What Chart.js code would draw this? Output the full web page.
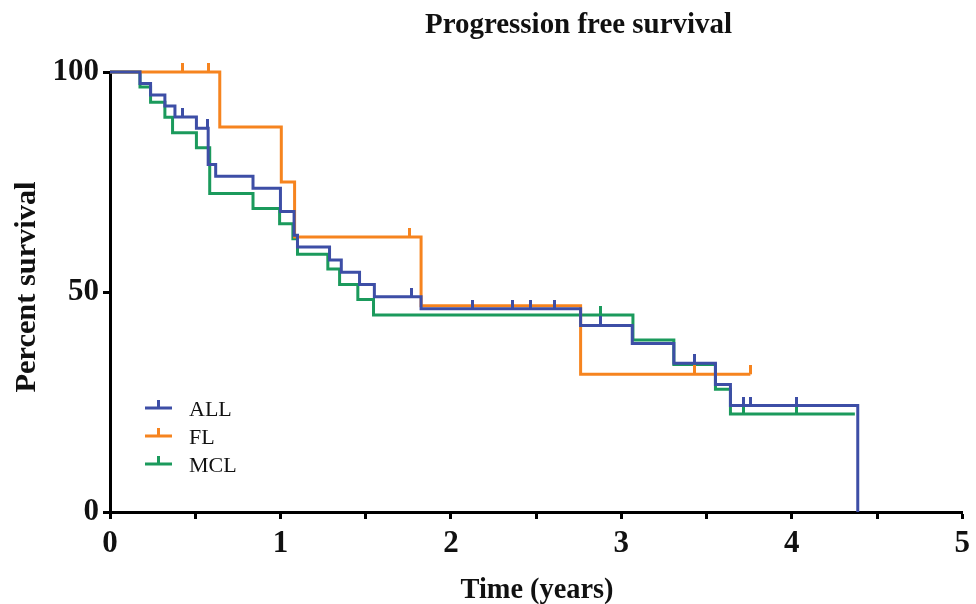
<!DOCTYPE html>
<html>
<head>
<meta charset="utf-8">
<script src="https://cdn.jsdelivr.net/npm/chart.js@4"></script>
<style>
html,body{margin:0;padding:0;background:#fff;}
#wrap{width:976px;height:604px;position:relative;}
</style>
</head>
<body>
<div id="wrap"><canvas id="c" width="976" height="604"></canvas></div>
<script>
// ---- data ----
const chartTitle = "Progression free survival";
const xTitle = "Time (years)";
const yTitle = "Percent survival";
const seriesNames = ["ALL", "FL", "MCL"];
const seriesColors = ["#3d4ea6", "#f6841f", "#1b9a5c"];

const ALL_time = [0, 0.176, 0.238, 0.322, 0.381, 0.507, 0.576, 0.62, 0.839, 1.0, 1.08, 1.1, 1.288, 1.357, 1.464, 1.551, 1.825, 2.761, 3.064, 3.308, 3.552, 3.64, 4.387];
const ALL_surv = [100, 97.4, 94.8, 92.3, 89.8, 87.2, 79.0, 76.3, 73.6, 68.3, 62.9, 60.2, 57.3, 54.5, 51.7, 48.9, 46.2, 42.4, 38.3, 33.8, 29.0, 24.2, 0];
const ALL_censor = [0.425, 0.57, 1.766, 2.127, 2.361, 2.469, 2.608, 2.878, 3.431, 3.718, 3.757, 4.03];

const FL_time = [0, 0.644, 1.005, 1.083, 1.825, 2.761, 3.757];
const FL_surv = [100, 87.5, 75, 62.5, 46.9, 31.3, 31.3];
const FL_censor = [0.425, 0.576, 1.76, 3.431, 3.757];

const MCL_time = [0, 0.176, 0.238, 0.322, 0.367, 0.507, 0.585, 0.839, 0.995, 1.073, 1.1, 1.278, 1.347, 1.454, 1.546, 3.068, 3.308, 3.552, 3.64, 4.37];
const MCL_surv = [100, 96.6, 93.1, 89.7, 86.2, 82.8, 72.4, 69.0, 65.5, 62.1, 58.6, 55.2, 51.7, 48.3, 44.8, 39.1, 33.5, 27.9, 22.3, 22.3];
const MCL_censor = [2.875, 3.718, 4.03];

const xTicks = [0, 1, 2, 3, 4, 5];
const yTicks = [0, 50, 100];

// ---- helpers ----
function toPoints(t, s) { return t.map((v, i) => ({x: v, y: s[i]})); }
function survAt(t, s, x) { let v = s[0]; for (let i = 0; i < t.length; i++) { if (t[i] <= x) v = s[i]; } return v; }
function censorPoints(c, t, s) { return c.map(x => ({x: x, y: survAt(t, s, x)})); }
function tickImage(color) {
  const cv = document.createElement('canvas');
  cv.width = 3; cv.height = 18;
  const g = cv.getContext('2d');
  g.fillStyle = color; g.fillRect(0, 0, 3, 9);
  return cv;
}

const SERIF = '"Liberation Serif", "Times New Roman", serif';
const series = [
  {t: ALL_time, s: ALL_surv, c: ALL_censor},
  {t: FL_time, s: FL_surv, c: FL_censor},
  {t: MCL_time, s: MCL_surv, c: MCL_censor}
];
const datasets = [];
series.forEach((sr, i) => {
  datasets.push({
    type: 'line', label: seriesNames[i], data: toPoints(sr.t, sr.s),
    borderColor: seriesColors[i], borderWidth: 3, stepped: 'before',
    pointRadius: 0, fill: false, order: i * 2 + 1, clip: false
  });
  datasets.push({
    type: 'scatter', label: seriesNames[i] + ' censored', data: censorPoints(sr.c, sr.t, sr.s),
    pointStyle: tickImage(seriesColors[i]), pointRadius: 9, showLine: false,
    order: i * 2, clip: false
  });
});

function fitText(ctx, text, cx, cy, width) {
  const w = ctx.measureText(text).width;
  ctx.save();
  ctx.translate(cx, cy);
  ctx.scale(width / w, 1);
  ctx.fillText(text, 0, 0);
  ctx.restore();
}

const textPlugin = {
  id: 'texts',
  afterDraw(chart) {
    const ctx = chart.ctx;
    ctx.save();
    ctx.fillStyle = '#111';
    ctx.textAlign = 'center'; ctx.textBaseline = 'alphabetic';
    ctx.font = 'bold 30px ' + SERIF;
    fitText(ctx, chartTitle, 578.5, 33, 307);
    fitText(ctx, xTitle, 537, 598, 153);
    ctx.save();
    ctx.translate(35, 287); ctx.rotate(-Math.PI / 2);
    fitText(ctx, yTitle, 0, 0, 211);
    ctx.restore();
    // legend
    const ys = [408, 436, 464];
    ctx.textAlign = 'left';
    ctx.font = '22px ' + SERIF;
    seriesNames.forEach((n, i) => {
      ctx.fillStyle = seriesColors[i];
      ctx.fillRect(145, ys[i] - 1.5, 27, 3);
      ctx.fillRect(157, ys[i] - 8, 3, 7);
      ctx.fillStyle = '#111';
      ctx.fillText(n, 189, ys[i] + 8);
    });
    ctx.restore();
  }
};

new Chart(document.getElementById('c'), {
  data: {datasets: datasets},
  options: {
    responsive: false, animation: false, devicePixelRatio: 1,
    layout: {padding: {left: 0, top: 72, right: 12, bottom: 0}},
    plugins: {legend: {display: false}, tooltip: {enabled: false}, title: {display: false}},
    scales: {
      x: {
        type: 'linear', min: 0, max: 5,
        afterFit: s => { s.height = 92; },
        afterBuildTicks: s => { s.ticks = []; for (let k = 0; k <= 10; k++) s.ticks.push({value: k / 2}); },
        ticks: {
          autoSkip: false, maxRotation: 0, padding: 6, color: '#111',
          font: {family: SERIF, weight: 'bold', size: 31},
          callback: v => xTicks.includes(v) ? String(v) : ''
        },
        grid: {drawOnChartArea: false, drawTicks: true, tickLength: 7, tickColor: '#000', tickWidth: 3},
        border: {display: true, color: '#000', width: 3}
      },
      y: {
        type: 'linear', min: 0, max: 100,
        afterFit: s => { s.width = 110; },
        afterBuildTicks: s => { s.ticks = yTicks.map(v => ({value: v})); },
        ticks: {padding: 4, color: '#111', font: {family: SERIF, weight: 'bold', size: 31}},
        grid: {drawOnChartArea: false, drawTicks: true, tickLength: 7, tickColor: '#000', tickWidth: 3},
        border: {display: true, color: '#000', width: 3}
      }
    }
  },
  plugins: [textPlugin]
});
</script>
</body>
</html>
